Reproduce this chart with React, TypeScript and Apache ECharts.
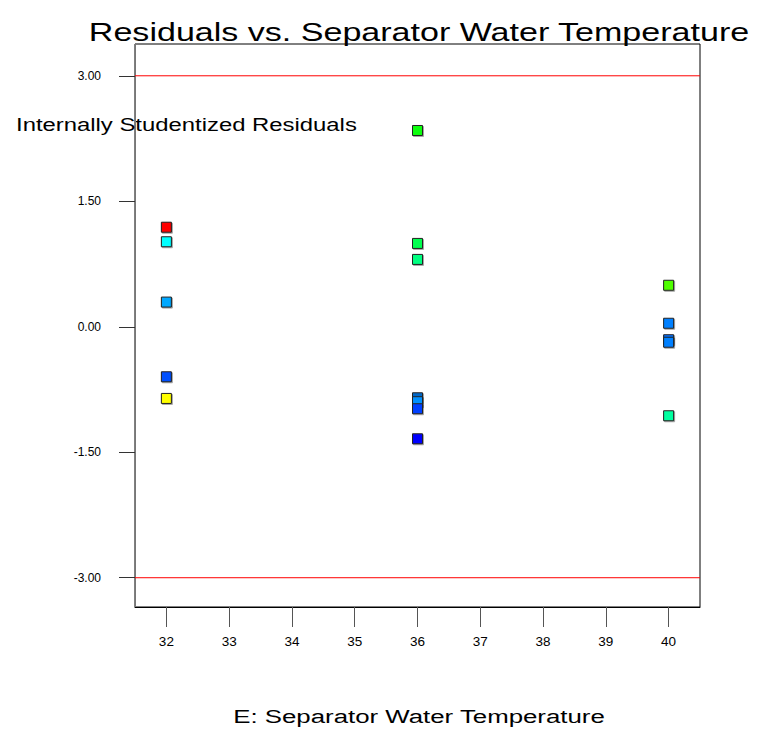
import React, { useEffect, useRef } from "react";
import * as echarts from "echarts";

const xTicks = [32, 33, 34, 35, 36, 37, 38, 39, 40];
const yTicks = [-3, -1.5, 0, 1.5, 3];
const limitLines = [3, -3];
const xRange = [31.5, 40.5];
const yRange = [-3.35, 3.38];

const temps = [32, 32, 32, 32, 32, 36, 36, 36, 36, 36, 36, 36, 40, 40, 40, 40, 40];
const residuals = [1.19, 1.016, 0.295, -0.598, -0.857, 2.346, 0.996, 0.805, -0.849, -0.896, -0.98, -1.339, 0.496, 0.042, -0.155, -0.185, -1.064];
const pointColors = [
  "#ff0000", "#00ffff", "#00a8ff", "#0050ff", "#ffff00",
  "#10ff10", "#00ff50", "#00ff80", "#0068c8", "#0090ff", "#0040ff", "#0000ff",
  "#50ff00", "#0080ff", "#0070ff", "#0080ff", "#00ffa0",
];

const FONT = "'Liberation Sans', Arial, sans-serif";

export default function App() {
  const ref = useRef<HTMLDivElement>(null);
  useEffect(() => {
    if (!ref.current) return;
    const chart = echarts.init(ref.current, null, { renderer: "svg" });
    const data = temps.map((t, i) => ({
      value: [t, residuals[i]],
      itemStyle: { color: pointColors[i] },
    }));
    const limitSeries = limitLines.map((v) => ({
      type: "line",
      data: [
        [xRange[0], v],
        [xRange[1], v],
      ],
      symbol: "none",
      silent: true,
      z: 1,
      lineStyle: { color: "#ff0000", width: 1 },
    }));
    chart.setOption({
      animation: false,
      backgroundColor: "#ffffff",
      textStyle: { fontFamily: FONT },
      grid: { left: 135, right: 70, top: 44, bottom: 126, show: true, borderColor: "#000", borderWidth: 1, backgroundColor: "transparent" },
      xAxis: {
        type: "value",
        min: xRange[0],
        max: xRange[1],
        axisLine: { show: true, onZero: false, lineStyle: { color: "#000" } },
        axisTick: { show: true, length: 20, customValues: xTicks, lineStyle: { color: "#555" } },
        axisLabel: { customValues: xTicks, margin: 27, fontSize: 13.5, color: "#000", fontFamily: FONT },
        splitLine: { show: false },
      },
      yAxis: {
        type: "value",
        min: yRange[0],
        max: yRange[1],
        axisLine: { show: true, onZero: false, lineStyle: { color: "#777" } },
        axisTick: { show: true, length: 16, customValues: yTicks, lineStyle: { color: "#333" } },
        axisLabel: {
          customValues: yTicks,
          margin: 34,
          fontSize: 12,
          color: "#000",
          fontFamily: FONT,
          formatter: (v: number) => v.toFixed(2),
        },
        splitLine: { show: false },
      },
      graphic: [
        {
          type: "text",
          x: 419,
          y: 32,
          scaleX: 1.31,
          style: { text: "Residuals vs. Separator Water Temperature", fontSize: 26, fontFamily: FONT, fill: "#000", align: "center", verticalAlign: "middle" },
        },
        {
          type: "text",
          x: 16,
          y: 125,
          scaleX: 1.29,
          style: { text: "Internally Studentized Residuals", fontSize: 18.5, fontFamily: FONT, fill: "#000", align: "left", verticalAlign: "middle" },
        },
        {
          type: "text",
          x: 419,
          y: 716,
          scaleX: 1.36,
          style: { text: "E: Separator Water Temperature", fontSize: 19, fontFamily: FONT, fill: "#000", align: "center", verticalAlign: "middle" },
        },
      ],
      series: [
        ...limitSeries,
        {
          type: "scatter",
          symbol: "rect",
          symbolSize: 10,
          z: 3,
          data,
          itemStyle: {
            borderColor: "#222",
            borderWidth: 1,
            opacity: 1,
            shadowColor: "rgba(0,0,0,0.35)",
            shadowOffsetX: 1,
            shadowOffsetY: 1,
            shadowBlur: 0,
          },
        },
      ],
    });
    return () => chart.dispose();
  }, []);
  return <div ref={ref} style={{ position: "absolute", left: 0, top: 0, width: 770, height: 733 }} />;
}
